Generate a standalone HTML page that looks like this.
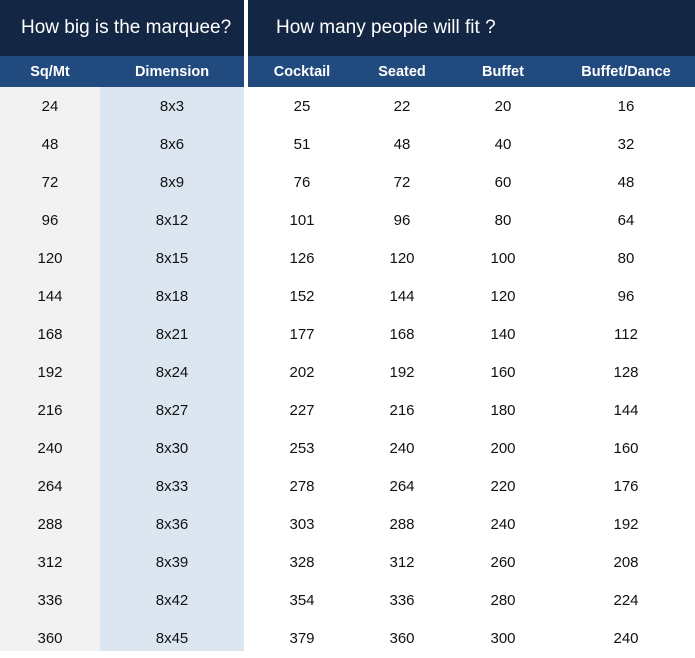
<!DOCTYPE html>
<html><head><meta charset="utf-8"><style>
body{margin:0;width:695px;height:651px;overflow:hidden;background:#fff;font-family:"Liberation Sans",sans-serif;position:relative}
div{position:absolute;box-sizing:border-box}
.t{color:#fff;font-size:19px;top:15px;line-height:26px}
.h{color:#fff;font-weight:bold;font-size:14.5px;top:56px;height:31px;line-height:32px;text-align:center}
.c{font-size:15px;color:#111;text-align:center;height:38px;line-height:38px}
</style></head><body>
<div style="left:0;top:0;width:695px;height:56px;background:#132643"></div>
<div style="left:0;top:56px;width:695px;height:31px;background:#214a7e"></div>
<div style="left:0;top:87px;width:100px;height:564px;background:#f2f2f2"></div>
<div style="left:100px;top:87px;width:144px;height:564px;background:#dce6f1"></div>
<div style="left:244px;top:0;width:4px;height:651px;background:#fff"></div>
<div class="t" style="left:21px">How big is the marquee?</div>
<div class="t" style="left:276px">How many people will fit ?</div>
<div id="tbl"></div>
<script>
const sqmt=[24,48,72,96,120,144,168,192,216,240,264,288,312,336,360];
const dims=["8x3","8x6","8x9","8x12","8x15","8x18","8x21","8x24","8x27","8x30","8x33","8x36","8x39","8x42","8x45"];
const cocktail=[25,51,76,101,126,152,177,202,227,253,278,303,328,354,379];
const seated=[22,48,72,96,120,144,168,192,216,240,264,288,312,336,360];
const buffet=[20,40,60,80,100,120,140,160,180,200,220,240,260,280,300];
const dance=[16,32,48,64,80,96,112,128,144,160,176,192,208,224,240];
const cols=[["Sq/Mt",sqmt,50,100],["Dimension",dims,172,144],["Cocktail",cocktail,302,100],["Seated",seated,402,100],["Buffet",buffet,503,100],["Buffet/Dance",dance,626,130]];
cols.forEach(([name,vals,cx,w])=>{
  const h=document.createElement('div');h.className='h';
  
  
  h.style.left=(cx-w/2)+'px';h.style.width=w+'px';h.textContent=name;document.body.appendChild(h);
  vals.forEach((v,i)=>{
    const c=document.createElement('div');c.className='c';
    
    
    c.style.left=(cx-w/2)+'px';c.style.width=w+'px';c.style.top=(88+i*38)+'px';c.textContent=v;document.body.appendChild(c);
  });
});
</script>
</body></html>
